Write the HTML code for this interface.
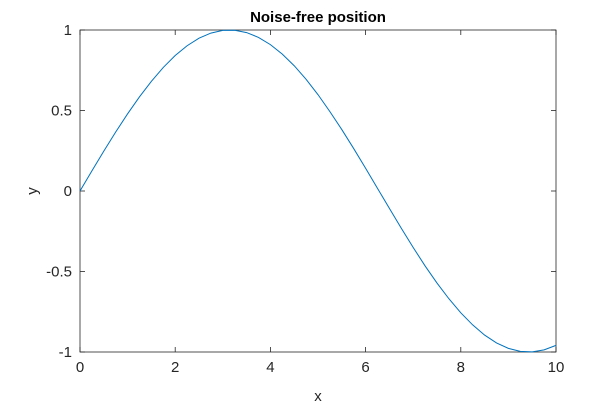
<!DOCTYPE html>
<html><head><meta charset="utf-8"><style>
body{margin:0;background:#fff;}
svg text{font-family:"Liberation Sans",Arial,sans-serif;fill:#262626;}
</style></head><body>
<svg id="chart" width="616" height="406" viewBox="0 0 616 406">
<rect x="0" y="0" width="616" height="406" fill="#fff"/>
<rect x="80" y="30" width="476" height="322" fill="#fff" stroke="#262626" stroke-width="0.8"/>
<g id="ticks"></g>
<path id="line" fill="none" stroke="#0072BD" stroke-width="1"/>
<text x="318" y="22" text-anchor="middle" font-size="15" font-weight="bold" style="fill:#000">Noise-free position</text>
<text x="318" y="401" text-anchor="middle" font-size="15">x</text>
<text x="37" y="191" text-anchor="middle" font-size="15" transform="rotate(-90 37 191)">y</text>
</svg>
<script>
const xValues=[0,0.25,0.5,0.75,1,1.25,1.5,1.75,2,2.25,2.5,2.75,3,3.25,3.5,3.75,4,4.25,4.5,4.75,5,5.25,5.5,5.75,6,6.25,6.5,6.75,7,7.25,7.5,7.75,8,8.25,8.5,8.75,9,9.25,9.5,9.75,10];
const yValues=[0,0.1247,0.2474,0.3663,0.4794,0.5851,0.6816,0.7675,0.8415,0.9023,0.9490,0.9809,0.9975,0.9985,0.9840,0.9541,0.9093,0.8504,0.7781,0.6938,0.5985,0.4931,0.3817,0.2636,0.1411,0.0166,-0.1082,-0.2311,-0.3508,-0.4654,-0.5716,-0.6692,-0.7568,-0.8318,-0.8950,-0.9438,-0.9775,-0.9962,-0.9993,-0.9869,-0.9589];
const xTicks=[0,2,4,6,8,10];
const yTicks=[-1,-0.5,0,0.5,1];
const yTickLabels=["-1","-0.5","0","0.5","1"];
const L=80,R=556,T=30,B=352;
const sx=v=>L+(v-0)/(10-0)*(R-L);
const sy=v=>B-(v+1)/2*(B-T);
const NS="http://www.w3.org/2000/svg";
const g=document.getElementById('ticks');
function add(tag,attrs,txt){const e=document.createElementNS(NS,tag);for(const k in attrs)e.setAttribute(k,attrs[k]);if(txt!==undefined)e.textContent=txt;g.appendChild(e);return e;}
xTicks.forEach(v=>{const x=sx(v);
 const t1=add('line',{x1:x,x2:x,y1:B,y2:B-5,stroke:'#262626','stroke-width':0.8});
 
 
 const t2=add('line',{x1:x,x2:x,y1:T,y2:T+5,stroke:'#262626','stroke-width':0.8});
 
 
 const l=add('text',{x:x,y:B+20,'text-anchor':'middle','font-size':15},String(v));
 
 
});
yTicks.forEach((v,i)=>{const y=sy(v);
 const t1=add('line',{x1:L,x2:L+5,y1:y,y2:y,stroke:'#262626','stroke-width':0.8});
 
 
 const t2=add('line',{x1:R,x2:R-5,y1:y,y2:y,stroke:'#262626','stroke-width':0.8});
 
 
 const l=add('text',{x:L-8,y:y+5,'text-anchor':'end','font-size':15},yTickLabels[i]);
 
 
});
document.getElementById('line').setAttribute('d',xValues.map((x,i)=>(i?'L':'M')+sx(x).toFixed(2)+' '+sy(yValues[i]).toFixed(2)).join(' '));
</script>
</body></html>
